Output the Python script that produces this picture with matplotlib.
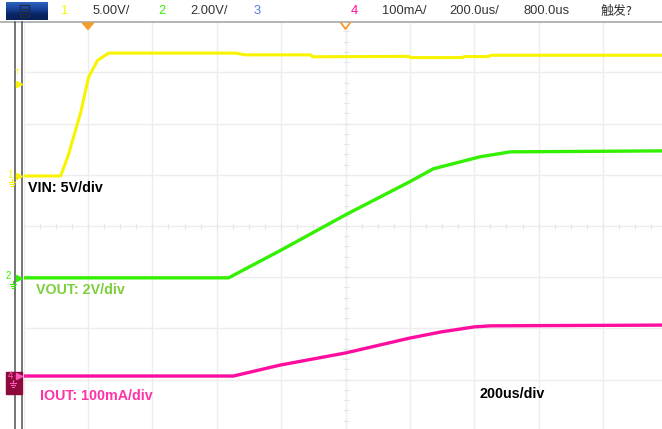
import matplotlib
matplotlib.use('Agg')
import matplotlib.pyplot as plt
import numpy as np
from matplotlib.colors import LinearSegmentedColormap

plt.rcParams['font.family'] = ['Liberation Sans', 'Noto Sans CJK SC', 'DejaVu Sans']

# ---------------- data ----------------
time_per_div = 200.0      # us/div
delay = 800.0             # us at screen centre
n_hdiv, n_vdiv = 10, 8

ch_labels = ['1', '2', '3', '4']
ch_scale_txt = ['5.00V/', '2.00V/', '', '100mA/']
timebase_txt = '200.0us/'
delay_txt = '800.0us'
trig_txt = '触发?'

# CH1  VIN (V), 5 V/div
vin_scale = 5.0
vin_offset = 0.977
trig_level = 9.0
vin_t = [-200, -85, -63, -23, 2, 30, 64, 458, 489, 691, 698, 996, 1002, 1163, 1170, 1244, 1251, 1800]
vin_v = [0.0, 0.0, 1.85, 6.15, 9.66, 11.3, 12.0, 12.0, 11.83, 11.83, 11.64, 11.68, 11.56, 11.56, 11.66, 11.66, 11.79, 11.79]

# CH2  VOUT (V), 2 V/div
vout_scale = 2.0
vout_offset = -1.012
vout_t = [-200, 437, 601, 800, 999, 1073, 1219, 1312, 1800]
vout_v = [0.0, 0.0, 1.09, 2.46, 3.75, 4.26, 4.73, 4.92, 4.96]

# CH4  IOUT (mA), 100 mA/div
iout_scale = 100.0
iout_offset = -2.93
iout_t = [-200, 452, 598, 800, 999, 1096, 1201, 1250, 1800]
iout_v = [0.0, 0.0, 21.5, 45.0, 74.0, 86.0, 96.0, 98.0, 99.5]

label_vin = 'VIN: 5V/div'
label_vout = 'VOUT: 2V/div'
label_iout = 'IOUT: 100mA/div'
label_time = '200us/div'

# ---------------- colours ----------------
c_yel = '#f8f400'
c_grn = '#33f000'
c_mag = '#ff0d9e'
c_blu = '#4a7cf0'
c_org = '#f39c2a'

W, H = 662, 429
fig = plt.figure(figsize=(W / 100, H / 100), dpi=100)
fig.patch.set_facecolor('white')

# scope graticule axes (pixel geometry of the screen)
gl, gr, gt, gb = 23.6, 667.4, 21.2, 430.8
ax = fig.add_axes([gl / W, (H - gb) / H, (gr - gl) / W, (gb - gt) / H])
x0 = delay - n_hdiv / 2 * time_per_div
x1 = delay + n_hdiv / 2 * time_per_div
ax.set_xlim(x0, x1)
ax.set_ylim(-n_vdiv / 2, n_vdiv / 2)
ax.set_xticks(np.arange(x0, x1 + 1, time_per_div))
ax.set_yticks(np.arange(-n_vdiv / 2, n_vdiv / 2 + 1))
ax.tick_params(length=0, labelbottom=False, labelleft=False)
ax.grid(True, color='#ededed', lw=1)
for s in ax.spines.values():
    s.set_visible(False)
ax.set_axisbelow(True)

# centre-cross minor ticks
ax.plot(np.full(41, delay), np.linspace(-4, 4, 41), ls='none', marker='_', ms=4, mew=0.8, color='#e6e6e6', zorder=1)
ax.plot(np.arange(x0, x1 + 1, time_per_div / 4), np.zeros(41), ls='none', marker='|', ms=4, mew=0.8, color='#e6e6e6', zorder=1)

def to_div(vals, scale, off):
    return np.asarray(vals) / scale + off

ax.plot(vin_t, to_div(vin_v, vin_scale, vin_offset), color=c_yel, lw=2.2, zorder=3, solid_joinstyle='round')
ax.plot(vout_t, to_div(vout_v, vout_scale, vout_offset), color=c_grn, lw=2.4, zorder=3)
ax.plot(iout_t, to_div(iout_v, iout_scale, iout_offset), color=c_mag, lw=2.4, zorder=3)

# ---------------- overlay in pixel space ----------------
ov = fig.add_axes([0, 0, 1, 1], zorder=10)
ov.set_xlim(0, W)
ov.set_ylim(H, 0)
ov.axis('off')

def pix(t, div):
    disp = ax.transData.transform((t, div))
    return ov.transData.inverted().transform(disp)

def ypix(div):
    return pix(0, div)[1]

# top bar
ov.add_patch(plt.Rectangle((0, 0), W, 21, color='white', zorder=1))
ov.plot([0, W], [22, 22], color='#a8a8a8', lw=1.2, zorder=2)
grad = np.linspace(0, 1, 50)[:, None]
cm = LinearSegmentedColormap.from_list('btn', ['#2f62bd', '#1a47a0', '#0a2766', '#06205a'])
ov.imshow(grad, extent=(6, 48, 20, 2), cmap=cm, aspect='auto', zorder=3)
ov.add_patch(plt.Rectangle((20, 5), 9, 12, fill=False, ec='#222a40', lw=0.9, zorder=4))
for yy in (9, 11.5, 14):
    ov.plot([22, 27], [yy, yy], color='#222a40', lw=0.7, zorder=4)
ov.set_xlim(0, W)
ov.set_ylim(H, 0)

# trigger-position (filled) and delay (open) markers
xt0 = pix(0, 0)[0]
xd = pix(delay, 0)[0]
ov.add_patch(plt.Polygon([(xt0 - 5.5, 23), (xt0 + 5.5, 23), (xt0, 29.5)], closed=True, color=c_org, zorder=5))
ov.plot([xd - 4.5, xd, xd + 4.5], [23, 29, 23], color=c_org, lw=1.3, zorder=5)

ty = 11.5
fs = 9.3
ov.text(65, ty, ch_labels[0], color=c_yel, fontsize=fs, ha='center', va='center')
ov.text(93, ty, ch_scale_txt[0], color='#333333', fontsize=fs, ha='left', va='center')
ov.text(162, ty, ch_labels[1], color=c_grn, fontsize=fs, ha='center', va='center')
ov.text(190, ty, ch_scale_txt[1], color='#333333', fontsize=fs, ha='left', va='center')
ov.text(257, ty, ch_labels[2], color=c_blu, fontsize=fs, ha='center', va='center')
ov.text(354, ty, ch_labels[3], color=c_mag, fontsize=fs, ha='center', va='center')
ov.text(382, ty, ch_scale_txt[3], color='#333333', fontsize=fs, ha='left', va='center')
ov.text(449, ty, timebase_txt, color='#333333', fontsize=fs, ha='left', va='center')
ov.text(523, ty, delay_txt, color='#333333', fontsize=fs, ha='left', va='center')
ov.text(601, ty, trig_txt, color='#333333', fontsize=fs, ha='left', va='center',
        family=['Noto Sans CJK SC', 'DejaVu Sans'])

# left vertical bars
ov.plot([14.7, 14.7], [22, H], color='#505050', lw=1.1, zorder=2)
ov.plot([22.3, 22.3], [22, H], color='#505050', lw=1.1, zorder=2)

def ground(x, y, col):
    ov.plot([x, x], [y, y + 3], color=col, lw=0.8, zorder=6)
    ov.plot([x - 3, x + 3], [y + 3, y + 3], color=col, lw=0.8, zorder=6)
    ov.plot([x - 2, x + 2], [y + 5, y + 5], color=col, lw=0.8, zorder=6)
    ov.plot([x - 1, x + 1], [y + 7, y + 7], color=col, lw=0.8, zorder=6)

# channel 1 marker
y1 = ypix(vin_offset)
ov.text(9.5, y1 - 1, ch_labels[0], color=c_yel, fontsize=7, ha='center', va='center', zorder=6)
ov.plot([19], [y1], marker='>', ms=5, color=c_yel, zorder=6)
ground(11.5, y1 + 3, c_yel)
# trigger level marker
yt = ypix(trig_level / vin_scale + vin_offset)
ov.text(17.5, yt - 11, 'T', color=c_yel, fontsize=6, ha='center', va='center', zorder=6)
ov.plot([19], [yt], marker='>', ms=5, color=c_yel, zorder=6)

# channel 2 marker
y2 = ypix(vout_offset)
ov.text(8.5, y2 - 2, ch_labels[1], color=c_grn, fontsize=7, ha='center', va='center', zorder=6)
ov.plot([19], [y2], marker='>', ms=5, color=c_grn, zorder=6)
ground(12.5, y2 + 3, c_grn)

# channel 4 marker
y4 = ypix(iout_offset)
ov.add_patch(plt.Rectangle((5.5, y4 - 4), 16.5, 22, color='#8c0a3c', zorder=5))
ov.text(10, y4, ch_labels[3], color='#ff5ab8', fontsize=7, ha='center', va='center', zorder=6)
ov.plot([18.5], [y4], marker='>', ms=4.5, color='#ff5ab8', zorder=6)
ground(12.5, y4 + 4, '#ff5ab8')

# annotations
lfs = 10.3
ov.text(28, 187.5, label_vin, color='black', fontsize=lfs, fontweight='bold', ha='left', va='center', zorder=7)
ov.text(36, 289.5, label_vout, color='#7ccf3a', fontsize=lfs, fontweight='bold', ha='left', va='center', zorder=7)
ov.text(40, 396, label_iout, color='#ff33a8', fontsize=lfs, fontweight='bold', ha='left', va='center', zorder=7)
ov.text(480, 394, label_time, color='black', fontsize=lfs, fontweight='bold', ha='left', va='center', zorder=7)

fig.savefig('out.png', dpi=100)
